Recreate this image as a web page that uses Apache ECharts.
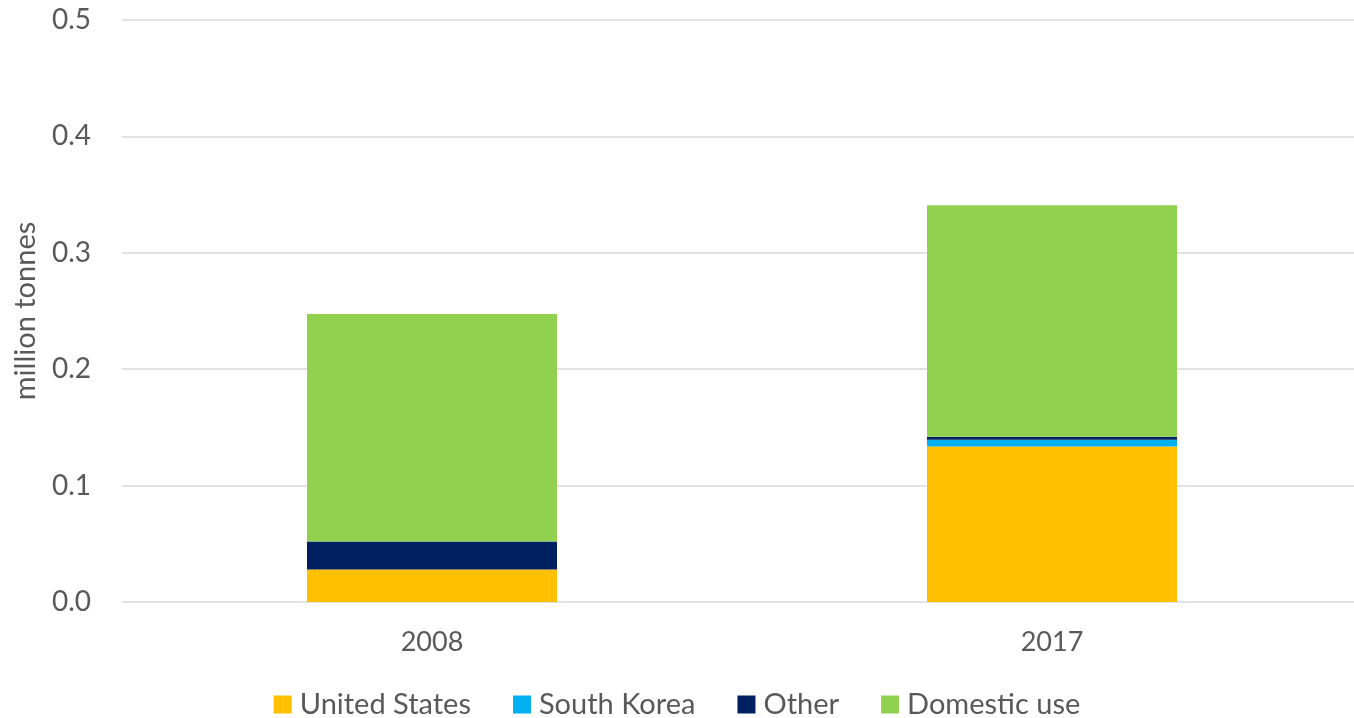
<!DOCTYPE html>
<html>
<head>
<meta charset="utf-8">
<script src="https://cdn.jsdelivr.net/npm/echarts@6/dist/echarts.min.js"></script>
<style>
  html, body { margin: 0; padding: 0; background: #fff; }
  #myChart { width: 1354px; height: 718px; }
</style>
</head>
<body>
<div id="myChart"></div>
<script>
// categories and values (million tonnes)
var years = ['2008', '2017'];
var unitedStates = [0.028, 0.1335];
var southKorea = [0, 0.0058];
var other = [0.024, 0.0026];
var domesticUse = [0.1955, 0.199];

var FONT = 'Lato, "Liberation Sans", sans-serif';
var TEXT = '#595959';

function bar(name, data, color) {
  return {
    name: name,
    type: 'bar',
    stack: 'total',
    barWidth: 250,
    data: data,
    itemStyle: { color: color },
    emphasis: { disabled: true }
  };
}

var myChart = echarts.init(document.getElementById('myChart'));
var option = {
  animation: false,
  textStyle: { fontFamily: FONT },
  grid: {
    left: 122, top: 20, width: 1240, height: 582,
    containLabel: false,
    outerBoundsMode: 'none'
  },
  legend: {
    bottom: -6,
    itemWidth: 18,
    itemHeight: 18,
    itemGap: 42,
    icon: 'rect',
    textStyle: { fontSize: 29, color: TEXT, fontFamily: FONT, padding: [0, 0, 0, 3] },
    data: ['United States', 'South Korea', 'Other', 'Domestic use']
  },
  xAxis: {
    type: 'category',
    data: years,
    axisLine: { show: false },
    axisTick: { show: false },
    axisLabel: { fontSize: 27, color: TEXT, margin: 27 }
  },
  yAxis: {
    type: 'value',
    min: 0,
    max: 0.5,
    interval: 0.1,
    name: 'million tonnes',
    nameLocation: 'middle',
    nameGap: 82,
    nameTextStyle: { fontSize: 29, color: TEXT },
    axisLine: { show: false },
    axisTick: { show: false },
    splitLine: { lineStyle: { color: '#d9d9d9', width: 1.5 } },
    axisLabel: {
      fontSize: 28,
      color: TEXT,
      margin: 31,
      formatter: function (v) { return v.toFixed(1); }
    }
  },
  series: [
    bar('United States', unitedStates, '#ffc000'),
    bar('South Korea', southKorea, '#00b0f0'),
    bar('Other', other, '#002060'),
    bar('Domestic use', domesticUse, '#92d050')
  ]
};
myChart.setOption(option);
</script>
</body>
</html>
